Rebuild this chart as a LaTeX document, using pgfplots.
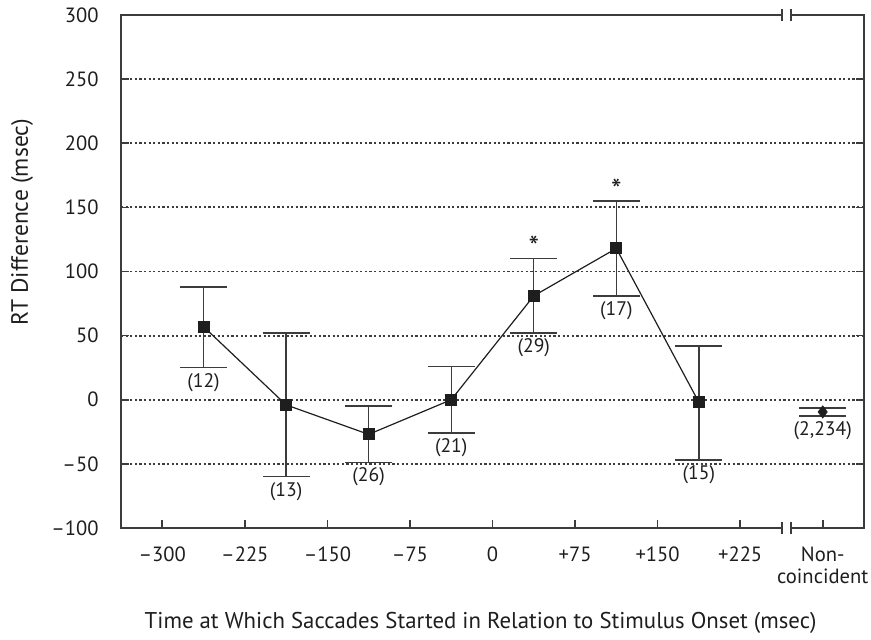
\documentclass[border=0pt]{standalone}
\usepackage{fontspec}
\setmainfont{PT Sans}
\usepackage{pgfplots}
\pgfplotsset{compat=1.18}
\definecolor{cAx}{HTML}{3C3C3C}
\definecolor{cInk}{HTML}{1E1E1E}

\begin{document}
\begin{tikzpicture}
\begin{axis}[name=ax, scale only axis, width=371.5pt, height=256.5pt,
  font=\fontsize{10.3}{11}\selectfont,
  xmin=-337.5, xmax=337.5, ymin=-100, ymax=300,
  xtick={-300,-225,-150,-75,0,75,150,225,300},
  xticklabels={–300,–225,–150,–75,0,+75,+150,+225,{Non-\\coincident}},
  xticklabel style={align=center, yshift=-6pt, text=cInk},
  ytick={-100,-50,0,50,100,150,200,250,300},
  yticklabels={–100,–50,0,50,100,150,200,250,300},
  yticklabel style={xshift=-7.7pt, text=cInk},
  xtick pos=lower, ytick pos=both, tick align=inside, major tick length=4pt,
  ymajorgrids, grid style={cAx, line width=0.9pt, dash pattern=on 1.1pt off 1.2pt},
  axis line style={cAx, line width=0.8pt},
  tick style={cAx, line width=0.8pt},
  xlabel={Time at Which Saccades Started in Relation to Stimulus Onset (msec)},
  xlabel style={at={(axis description cs:0.484,0)}, anchor=center, yshift=-47.5pt,
    text=cInk, font=\fontsize{11.4}{13}\selectfont},
  ylabel={RT Difference (msec)},
  ylabel style={at={(axis description cs:-0.1333,0.596)}, anchor=center,
    text=cInk, font=\fontsize{11.8}{13}\selectfont},
  clip=false]

  % coincident saccades: mean RT difference with error bars
  \addplot[cInk, line width=0.6pt, mark=square*, mark size=2.7pt,
    mark options={solid, fill=cInk},
    error bars/.cd, y dir=both, y explicit,
    error bar style={cAx, line width=0.7pt},
    error mark options={rotate=90, cAx, mark size=11.75pt, line width=0.7pt}]
  coordinates {
    (-262.5,57)  += (0,31) -= (0,32)
    (-187.5,-4)  += (0,56) -= (0,56)
    (-112.5,-27) += (0,22) -= (0,22)
    (-37.5,0)    += (0,26) -= (0,26)
    (37.5,81)    += (0,29) -= (0,29)
    (112.5,118)  += (0,37) -= (0,37)
    (187.5,-2)   += (0,44) -= (0,45)
  };

  % non-coincident trials
  \addplot[only marks, cInk, mark=diamond*, mark size=3pt,
    mark options={fill=cInk},
    error bars/.cd, y dir=both, y explicit,
    error bar style={cAx, line width=0.8pt},
    error mark options={rotate=90, cAx, mark size=11.75pt, line width=0.8pt}]
  coordinates {(300,-9.5) +- (0,3.2)};

  % trial counts under each bar
  \begin{scope}[every node/.style={anchor=north, inner sep=2.5pt, text=cInk,
      font=\fontsize{9.8}{11}\selectfont}]
    \node at (axis cs:-262.5,25) {(12)};
    \node at (axis cs:-187.5,-60) {(13)};
    \node at (axis cs:-112.5,-49) {(26)};
    \node at (axis cs:-37.5,-26) {(21)};
    \node at (axis cs:37.5,52) {(29)};
    \node at (axis cs:112.5,81) {(17)};
    \node at (axis cs:187.5,-47) {(15)};
    \node at (axis cs:300,-12.7) {(2,234)};
  \end{scope}
  \node[inner sep=0pt, yshift=-3.2pt, text=cInk, font=\fontsize{15}{15}\selectfont] at (axis cs:37.5,124.5) {*};
  \node[inner sep=0pt, yshift=-3.2pt, text=cInk, font=\fontsize{15}{15}\selectfont] at (axis cs:112.5,169) {*};

  \coordinate (bkT) at (axis cs:267,300);
  \coordinate (bkB) at (axis cs:267,-100);
\end{axis}
% axis breaks on top and bottom spines
\foreach \c in {bkT,bkB} {
  \fill[white] ([shift={(-2.2pt,-1pt)}]\c) rectangle ([shift={(2.2pt,1pt)}]\c);
  \draw[cAx, line width=0.8pt] ([shift={(-2.2pt,-3pt)}]\c) -- ([shift={(-2.2pt,3pt)}]\c);
  \draw[cAx, line width=0.8pt] ([shift={(2.2pt,-3pt)}]\c) -- ([shift={(2.2pt,3pt)}]\c);
}
\pgfresetboundingbox
\path ([shift={(-60.5pt,-56pt)}]ax.south west) rectangle ([shift={(3.5pt,7.5pt)}]ax.north east);
\end{tikzpicture}
\end{document}
